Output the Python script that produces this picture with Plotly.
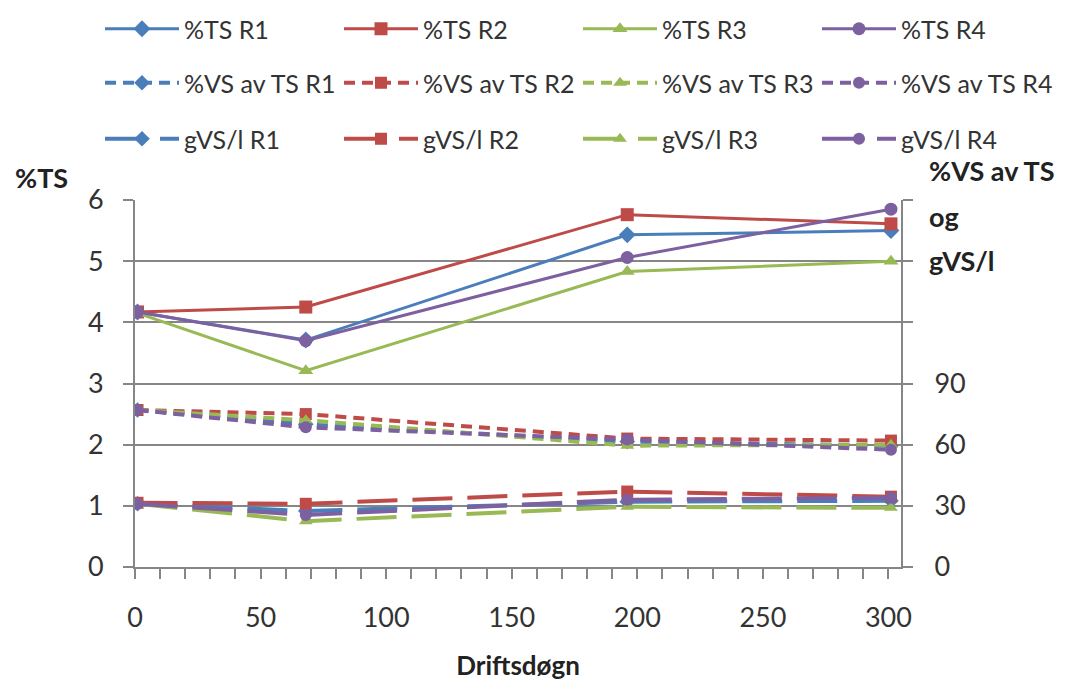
import plotly.graph_objects as go

days = [1, 68, 196, 301]

ts_r1 = [4.17, 3.71, 5.43, 5.50]
ts_r2 = [4.17, 4.25, 5.76, 5.61]
ts_r3 = [4.15, 3.21, 4.83, 5.00]
ts_r4 = [4.17, 3.70, 5.06, 5.85]

vs_r1 = [77, 70, 61.5, 59.5]
vs_r2 = [77, 75, 63, 62]
vs_r3 = [77, 72, 59.5, 60]
vs_r4 = [77, 68.5, 62.5, 57.5]

gvs_r1 = [31, 27.5, 32, 32.5]
gvs_r2 = [31.5, 31, 37, 34.5]
gvs_r3 = [31, 22.5, 29.5, 29]
gvs_r4 = [31, 25.5, 33, 34]

reactors = ["R1", "R2", "R3", "R4"]
colors = ["#4A7EBB", "#BE4B48", "#98B954", "#7D60A0"]
symbols = ["diamond", "square", "triangle-up", "circle"]

x_ticks = [0, 50, 100, 150, 200, 250, 300]
y_left_ticks = [0, 1, 2, 3, 4, 5, 6]
y_right_ticks = [0, 30, 60, 90, 120, 150, 180]
y_right_text = ["0", "30", "60", "90", "", "", ""]

FONT = "Lato"
AXIS_GRAY = "#868686"
TEXT = "#333333"
TITLE = "#222222"

fig = go.Figure()

ts_all = [ts_r1, ts_r2, ts_r3, ts_r4]
vs_all = [vs_r1, vs_r2, vs_r3, vs_r4]
gvs_all = [gvs_r1, gvs_r2, gvs_r3, gvs_r4]


def leg_id(row, i):
    # two legends per row: items R1-R2 and R3-R4
    n = row * 2 + (i // 2) + 1
    return "legend" if n == 1 else "legend%d" % n


for i, r in enumerate(reactors):
    fig.add_trace(go.Scatter(
        x=days, y=ts_all[i], name="%TS " + r, mode="lines+markers",
        line=dict(color=colors[i], width=3),
        marker=dict(symbol=symbols[i], size=13, color=colors[i]),
        legend=leg_id(0, i), yaxis="y"))
for i, r in enumerate(reactors):
    fig.add_trace(go.Scatter(
        x=days, y=vs_all[i], name="%VS av TS " + r, mode="lines+markers",
        line=dict(color=colors[i], width=4, dash="11px,7px"),
        marker=dict(symbol=symbols[i], size=12, color=colors[i]),
        legend=leg_id(1, i), yaxis="y2"))
for i, r in enumerate(reactors):
    fig.add_trace(go.Scatter(
        x=days, y=gvs_all[i], name="gVS/l " + r, mode="lines+markers",
        line=dict(color=colors[i], width=4, dash="40px,15px"),
        marker=dict(symbol=symbols[i], size=12, color=colors[i]),
        legend=leg_id(2, i), yaxis="y2"))

leg_common = dict(
    orientation="h", xref="container", yref="container",
    xanchor="left", yanchor="middle",
    entrywidth=150, entrywidthmode="pixels", itemwidth=74,
    font=dict(family=FONT, size=25, color=TEXT),
    bgcolor="rgba(0,0,0,0)", borderwidth=0,
)
row_y = [1 - 29 / 684, 1 - 83 / 684, 1 - 139 / 684]
half_x = [100 / 1066, 578 / 1066]

legends = {}
for row in range(3):
    for h in range(2):
        n = row * 2 + h + 1
        key = "legend" if n == 1 else "legend%d" % n
        legends[key] = dict(leg_common, x=half_x[h], y=row_y[row])

fig.update_layout(
    width=1066, height=684,
    paper_bgcolor="white", plot_bgcolor="white",
    margin=dict(l=135, r=165, t=200, b=117, autoexpand=False),
    font=dict(family=FONT, size=27, color=TEXT),
    xaxis=dict(
        range=[0, 305], tickvals=x_ticks, ticks="outside", ticklen=10,
        tickwidth=2, tickcolor=AXIS_GRAY, showline=True, linecolor=AXIS_GRAY,
        linewidth=2, showgrid=False, zeroline=False, ticklabelstandoff=16,
        automargin=False,
        minor=dict(dtick=10, ticks="outside", ticklen=10, tickwidth=2,
                   tickcolor=AXIS_GRAY, showgrid=False),
        tickfont=dict(family=FONT, size=27, color=TEXT),
        title=dict(text="<b>Driftsdøgn</b>", standoff=24,
                   font=dict(family=FONT, size=26, color=TITLE)),
    ),
    yaxis=dict(
        range=[0, 6], tickvals=y_left_ticks, ticks="outside", ticklen=10,
        tickwidth=2, tickcolor=AXIS_GRAY, showline=True, linecolor=AXIS_GRAY,
        linewidth=2, showgrid=True, gridcolor=AXIS_GRAY, gridwidth=2,
        zeroline=False, ticklabelstandoff=14, automargin=False,
        tickfont=dict(family=FONT, size=27, color=TEXT),
    ),
    yaxis2=dict(
        range=[0, 180], tickvals=y_right_ticks, ticktext=y_right_text,
        overlaying="y", side="right", ticks="outside", ticklen=10,
        tickwidth=2, tickcolor=AXIS_GRAY, showline=True, linecolor=AXIS_GRAY,
        linewidth=2, showgrid=False, zeroline=False, ticklabelstandoff=16,
        automargin=False,
        tickfont=dict(family=FONT, size=27, color=TEXT),
    ),
    annotations=[
        dict(text="<b>%TS</b>", xref="paper", yref="paper",
             x=-0.1227, y=1.06, xanchor="center", yanchor="middle",
             showarrow=False, font=dict(family=FONT, size=27, color=TITLE)),
        dict(text="<b>%VS av TS</b>", xref="paper", yref="paper",
             x=1.034, y=1.0817, xanchor="left", yanchor="middle",
             showarrow=False, font=dict(family=FONT, size=27, color=TITLE)),
        dict(text="<b>og</b>", xref="paper", yref="paper",
             x=1.034, y=0.956, xanchor="left", yanchor="middle",
             showarrow=False, font=dict(family=FONT, size=27, color=TITLE)),
        dict(text="<b>gVS/l</b>", xref="paper", yref="paper",
             x=1.034, y=0.8365, xanchor="left", yanchor="middle",
             showarrow=False, font=dict(family=FONT, size=27, color=TITLE)),
    ],
    **legends,
)

fig.write_html("out.html")
